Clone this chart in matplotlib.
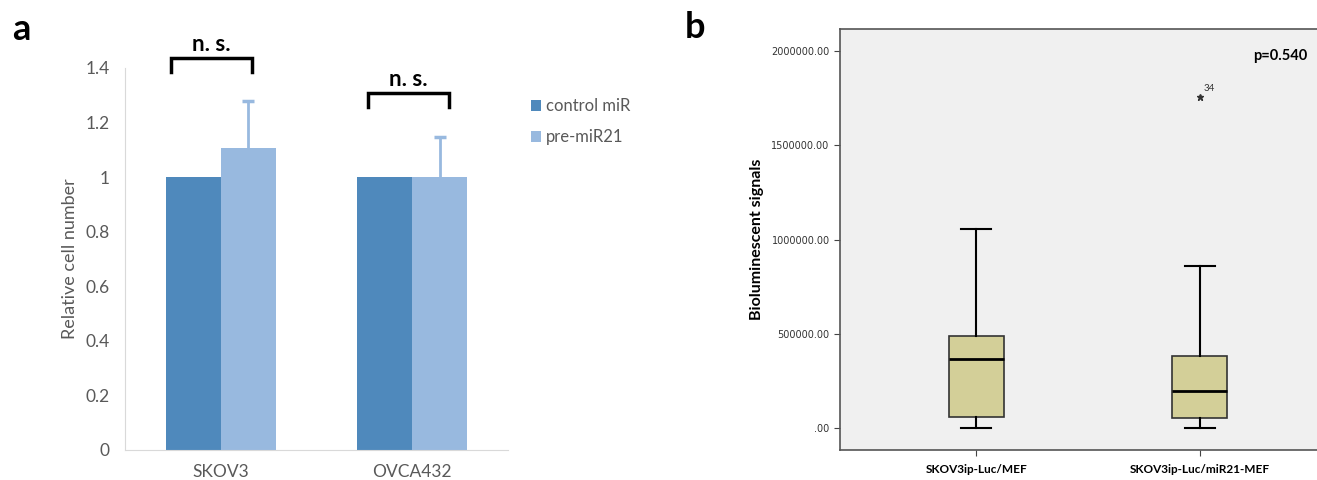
import matplotlib.pyplot as plt

# panel a data
cell_lines = ['SKOV3', 'OVCA432']
control_mir = [1.0, 1.0]
pre_mir21 = [1.107, 1.0]
pre_mir21_err = [0.173, 0.147]

# panel b data (box summary)
groups_b = ['SKOV3ip-Luc/MEF', 'SKOV3ip-Luc/miR21-MEF']
whislo = [0, 0]
q1 = [58000, 53000]
med = [366000, 196000]
q3 = [488000, 382000]
whishi = [1056000, 860000]
fliers = [[], [1756000]]
flier_ids = [[], ['34']]
yticks_b = [0, 500000, 1000000, 1500000, 2000000]
ytick_labels_b = ['.00', '500000.00', '1000000.00', '1500000.00', '2000000.00']

W, H = 1317, 480
fig = plt.figure(figsize=(W / 100, H / 100), dpi=100)
plt.rcParams['font.family'] = ['Lato', 'DejaVu Sans']
grey = '#595959'

# ---- panel a ----
ax = fig.add_axes([125 / W, 1 - 450 / H, 383 / W, 382 / H])
x = range(len(cell_lines))
bw = 0.2875
xc = [i - bw / 2 for i in x]
xp = [i + bw / 2 for i in x]
ax.bar(xc, control_mir, bw, color='#4F89BC', label='control miR')
ax.bar(xp, pre_mir21, bw, color='#98B9DF', label='pre-miR21')
# upper error bars only, cap on top
tops = [v + e for v, e in zip(pre_mir21, pre_mir21_err)]
ax.vlines(xp, pre_mir21, tops, color='#98B9DF', lw=2)
ax.plot(xp, tops, ls='none', marker='_', ms=9, mew=2.5, color='#98B9DF')
ax.set_xlim(-0.5, 1.5)
ax.set_ylim(0, 1.4)
ax.set_yticks([0, 0.2, 0.4, 0.6, 0.8, 1.0, 1.2, 1.4])
ax.set_yticklabels(['0', '0.2', '0.4', '0.6', '0.8', '1', '1.2', '1.4'])
ax.set_xticks(list(x))
ax.set_xticklabels(cell_lines)
ax.tick_params(length=0, labelsize=12.5, colors=grey)
ax.tick_params(axis='x', pad=10)
ax.tick_params(axis='y', pad=11)
for s in ['top', 'right']:
    ax.spines[s].set_visible(False)
for s in ['left', 'bottom']:
    ax.spines[s].set_color('#D9D9D9')
ax.set_ylabel('Relative cell number', fontsize=13, color=grey)
ax.yaxis.set_label_coords(-0.123, 0.5)

# significance brackets
brackets = [(-0.26, 0.163, 1.437, 1.385), (0.769, 1.19, 1.308, 1.257)]
for x0, x1, top, bot in brackets:
    ax.plot([x0, x0, x1, x1], [bot, top, top, bot], color='black', lw=2.5,
            clip_on=False, solid_joinstyle='miter')
    ax.text((x0 + x1) / 2, top + 0.012, 'n. s.', ha='center', va='bottom',
            fontsize=16, fontweight='bold')

ax.legend(loc='upper left', bbox_to_anchor=(1.02, 0.96), frameon=False,
          fontsize=12, labelcolor=grey, handlelength=0.6, handleheight=0.7,
          handletextpad=0.3, labelspacing=0.9)
fig.text(12 / W, 1 - 30 / H, 'a', fontsize=26, fontweight='bold', va='center')

# ---- panel b ----
bx = fig.add_axes([840 / W, 1 - 450 / H, 478 / W, 421 / H])
bx.set_facecolor('#F0F0F0')
stats = []
for i in range(len(groups_b)):
    stats.append({'whislo': whislo[i], 'q1': q1[i], 'med': med[i],
                  'q3': q3[i], 'whishi': whishi[i], 'fliers': fliers[i]})
bx.bxp(stats, positions=[1, 2], widths=0.247, patch_artist=True,
       showfliers=True,
       boxprops=dict(facecolor='#D3CF98', edgecolor='#333333', lw=1.2),
       medianprops=dict(color='black', lw=2),
       whiskerprops=dict(color='black', lw=1.5),
       capprops=dict(color='black', lw=1.5),
       capwidths=0.135,
       flierprops=dict(marker='*', markersize=5, markerfacecolor='#333333',
                       markeredgecolor='#333333'))
for i, ids in enumerate(flier_ids):
    for v, lab in zip(fliers[i], ids):
        bx.annotate(lab, (i + 1, v), xytext=(3, 4), textcoords='offset points',
                    fontsize=7, color='#333333')
bx.set_xlim(0.39, 2.53)
bx.set_ylim(-116700, 2117000)
bx.set_yticks(yticks_b)
bx.set_yticklabels(ytick_labels_b, family=['Liberation Sans Narrow', 'DejaVu Sans'])
bx.set_xticks([1, 2])
bx.set_xticklabels(groups_b, fontweight='bold', fontsize=8.5)
bx.tick_params(axis='y', labelsize=7, length=4, color='#444444', labelcolor='#333333')
bx.tick_params(axis='x', length=4, color='#444444', pad=6)
for s in bx.spines.values():
    s.set_color('#555555')
    s.set_linewidth(1.2)
bx.set_ylabel('Bioluminescent signals', fontsize=11.5, fontweight='bold', labelpad=5)
bx.text(0.92, 0.935, 'p=0.540', transform=bx.transAxes, fontsize=10.5,
        fontweight='bold', ha='center', va='center')
fig.text(685 / W, 1 - 28 / H, 'b', fontsize=26, fontweight='bold', va='center')

fig.savefig('out.png', dpi=100)
